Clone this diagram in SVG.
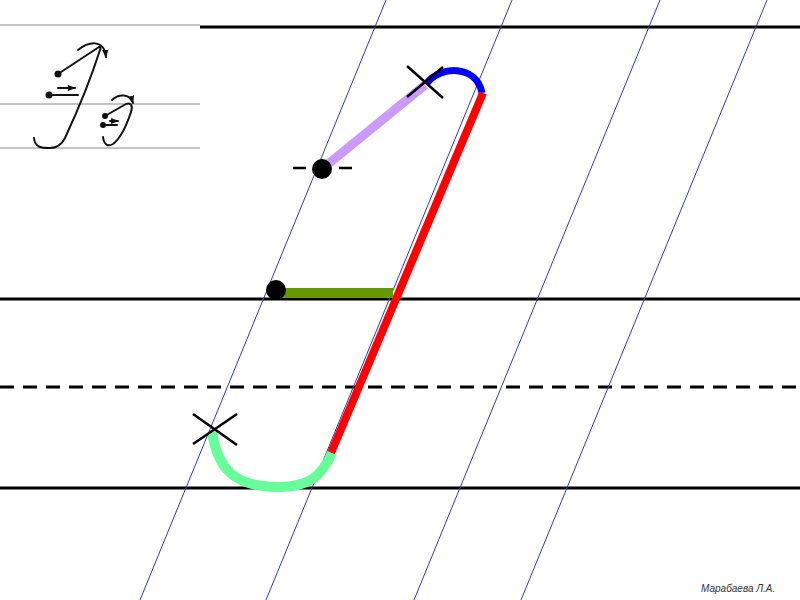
<svg xmlns="http://www.w3.org/2000/svg" width="800" height="600" viewBox="0 0 800 600">
<defs>
<style>
.rule{stroke:#000;stroke-width:3;fill:none}
.slant{stroke:#3a3a9e;stroke-width:1;fill:none}
.thin{stroke:#888;stroke-width:1;fill:none}
.pen{stroke:#111;stroke-width:2;fill:none;stroke-linecap:round;stroke-linejoin:round}
.cross{stroke:#000;stroke-width:2.5;fill:none}
.seg{fill:none}
</style>
<marker id="ah" viewBox="0 0 10 10" refX="9" refY="5" markerWidth="4" markerHeight="4" orient="auto">
<path d="M0,1 L10,5 L0,9 z" fill="#111"/>
</marker>
</defs>
<rect width="800" height="600" fill="#fff"/>

<g id="ruling">
<line class="rule" x1="200" y1="27" x2="800" y2="27"/>
<line class="rule" x1="0" y1="299" x2="800" y2="299"/>
<line class="rule" x1="0" y1="387" x2="800" y2="387" stroke-dasharray="14 9"/>
<line class="rule" x1="0" y1="488" x2="800" y2="488"/>
</g>

<g id="slants">
<line class="slant" x1="386" y1="0" x2="140" y2="600"/>
<line class="slant" x1="512" y1="0" x2="266" y2="600"/>
<line class="slant" x1="660" y1="0" x2="414" y2="600"/>
<line class="slant" x1="767" y1="0" x2="521" y2="600"/>
</g>

<g id="sample">
<line class="thin" x1="0" y1="25" x2="200" y2="25"/>
<line class="thin" x1="0" y1="104" x2="200" y2="104"/>
<line class="thin" x1="0" y1="148" x2="200" y2="148"/>
<circle cx="58" cy="74" r="3.5" fill="#111"/>
<path class="pen" d="M58,74 L99,47 C101,46 101,48 100,50 C92,75 78,110 65,138 C61,146 56,148 50,148 C42,148 35,148 34,138"/>
<circle cx="49" cy="95" r="3.5" fill="#111"/>
<path class="pen" d="M49,95 L78,95"/>
<path class="pen" stroke-width="1" d="M58,88 L75,88" marker-end="url(#ah)"/>
<path class="pen" stroke-width="1" d="M78,50 C88,42 104,38 106,57" marker-end="url(#ah)"/>
<circle cx="105" cy="116" r="3" fill="#111"/>
<circle cx="103" cy="125" r="3" fill="#111"/>
<path class="pen" d="M105,116 L126,104 C131,102 133,106 131,112 C127,124 121,138 113,144 C108,147 104,145 103,137"/>
<path class="pen" d="M103,125 L117,125"/>
<path class="pen" stroke-width="1" d="M110,121 L118,121" marker-end="url(#ah)"/>
<path class="pen" stroke-width="1" d="M112,100 C118,94 130,93 133,103" marker-end="url(#ah)"/>
</g>

<g id="letter">
<path class="seg" d="M322,169 L425,85" stroke="#cc99ff" stroke-width="9"/>
<path class="seg" d="M427,83 C440,66 476,64 482,93" stroke="#0000ff" stroke-width="7"/>
<path class="seg" d="M483,93 L331,453" stroke="#ff0000" stroke-width="8"/>
<path class="seg" d="M276,293 L393,293" stroke="#669900" stroke-width="10"/>
<path class="seg" d="M212,432 C218,470 235,486 275,487 C310,488 322,475 332,453" stroke="#66ff99" stroke-width="10"/>
</g>

<g id="marks">
<line class="cross" x1="407" y1="66" x2="443" y2="98"/>
<line class="cross" x1="443" y1="67" x2="407" y2="97"/>
<line class="cross" x1="193" y1="414" x2="237" y2="445"/>
<line class="cross" x1="237" y1="414" x2="193" y2="444"/>
<circle cx="322" cy="169" r="10" fill="#000"/>
<line class="cross" x1="293" y1="168" x2="306" y2="168"/>
<line class="cross" x1="339" y1="168" x2="352" y2="168"/>
<circle cx="276" cy="290" r="10" fill="#000"/>
</g>

<text x="701" y="592" font-family="'Liberation Sans', Arial, sans-serif" font-style="italic" font-size="10" fill="#333">Марабаева Л.А.</text>
</svg>
